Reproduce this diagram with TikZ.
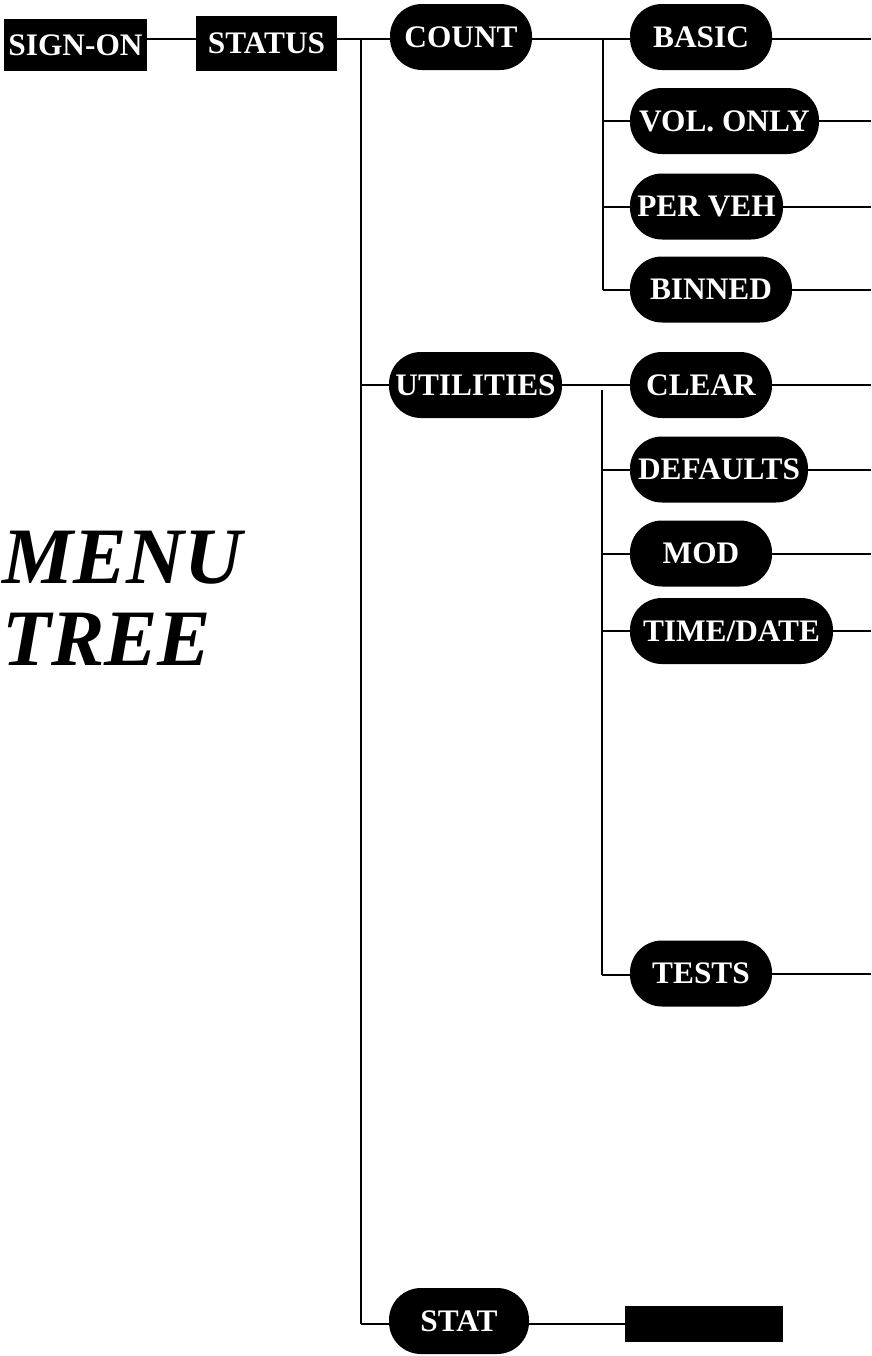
\documentclass[tikz,border=0pt]{standalone}
\usepackage{fontspec}
\setmainfont{Liberation Serif}
\begin{document}
\begin{tikzpicture}[x=0.75pt,y=-0.75pt,
  conn/.style={line width=1.5pt, black},
  pill/.style={fill=black, rounded corners=24pt, inner sep=0pt, minimum height=49.5pt,
    minimum width=#1*0.75pt, text=white, font=\bfseries\fontsize{23.5}{24}\selectfont},
  sbox/.style={fill=black, inner sep=0pt, minimum width=#1*0.75pt, text=white,
    font=\bfseries\fontsize{23.5}{24}\selectfont},
  title/.style={anchor=base west, inner sep=0pt, font=\bfseries\itshape\fontsize{60}{62}\selectfont}
]
\useasboundingbox (0,0) rectangle (871,1356);
% nodes
\node[sbox=143, minimum height=39pt] (signon) at (75.5,45) {SIGN-ON};
\node[sbox=141, minimum height=41pt] (status) at (266.5,43.5) {STATUS};
\node[pill=142] (count) at (461,37) {COUNT};
\node[pill=142] (basic) at (701,37) {BASIC};
\node[pill=189] (volonly) at (724.5,121) {VOL. ONLY};
\node[pill=153] (perveh) at (706.5,206.5) {PER VEH};
\node[pill=162] (binned) at (711,289.5) {BINNED};
\node[pill=173] (util) at (475.5,385) {UTILITIES};
\node[pill=142] (clear) at (701,385) {CLEAR};
\node[pill=178] (defaults) at (719,469.5) {DEFAULTS};
\node[pill=142] (mod) at (701,553.5) {MOD};
\node[pill=203] (timedate) at (731.5,631) {TIME/DATE};
\node[pill=142] (tests) at (701,973.5) {TESTS};
\node[pill=140] (stat) at (459,1321) {STAT};
\node[fill=black, inner sep=0pt, minimum width=158*0.75pt, minimum height=27pt] (bar) at (704,1324) {};
\node[title] (menu) at (2,583) {MENU};
\node[title] (tree) at (2,665) {TREE};
% coordinates
\coordinate (r1) at (0,39);
\coordinate (edge) at (871,0);
\coordinate (t1) at (361,39);
\coordinate (t2) at (361,1324);
\coordinate (c1) at (603,39);
\coordinate (c2) at (603,290);
\coordinate (u1) at (602,390);
\coordinate (u2) at (602,975);
% connectors
\draw[conn] (signon.east |- r1) -- (status.west |- r1);
\draw[conn] (status.east |- r1) -- (count.west |- r1);
\draw[conn] (t1) -- (t2);
\draw[conn] (util.west -| t1) -- (util.west);
\draw[conn] (t2) -- (stat.west |- t2);
\draw[conn] (stat.east |- t2) -- (bar.west);
\draw[conn] (count.east |- r1) -- (basic.west |- r1);
\draw[conn] (c1) -- (c2);
\draw[conn] (volonly.west -| c1) -- (volonly.west);
\draw[conn] (perveh.west -| c1) -- (perveh.west);
\draw[conn] (c2) -- (binned.west |- c2);
\draw[conn] (util.east) -- (clear.west);
\draw[conn] (u1) -- (u2);
\draw[conn] (defaults.west -| u1) -- (defaults.west);
\draw[conn] (mod.west -| u1) -- (mod.west);
\draw[conn] (timedate.west -| u1) -- (timedate.west);
\draw[conn] (u2) -- (tests.west |- u2);
% right-edge connectors
\draw[conn] (basic.east |- r1) -- (edge |- r1);
\draw[conn] (volonly.east) -- (volonly.east -| edge);
\draw[conn] (perveh.east) -- (perveh.east -| edge);
\draw[conn] (binned.east) -- (binned.east -| edge);
\draw[conn] (clear.east) -- (clear.east -| edge);
\draw[conn] (defaults.east) -- (defaults.east -| edge);
\draw[conn] (mod.east) -- (mod.east -| edge);
\draw[conn] (timedate.east) -- (timedate.east -| edge);
\draw[conn] (tests.east) -- (tests.east -| edge);
\end{tikzpicture}
\end{document}
